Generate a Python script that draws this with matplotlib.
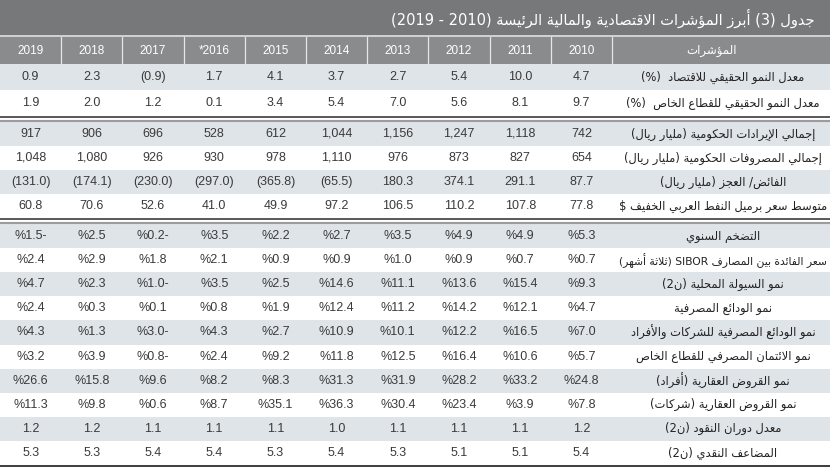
import re
import matplotlib
matplotlib.use("Agg")
import matplotlib.pyplot as plt
from matplotlib.patches import Rectangle

# ---------------- data ----------------
years = ["2010", "2011", "2012", "2013", "2014", "2015", "*2016", "2017", "2018", "2019"]
title_main = "جدول (3) أبرز المؤشرات الاقتصادية والمالية الرئيسة"
title_period = ("2010", "2019")
header_label = "المؤشرات"

growth_labels = ["معدل النمو الحقيقي للاقتصاد  (%)",
                 "معدل النمو الحقيقي للقطاع الخاص  (%)"]
real_gdp_growth = [4.7, 10.0, 5.4, 2.7, 3.7, 4.1, 1.7, -0.9, 2.3, 0.9]
private_sector_growth = [9.7, 8.1, 5.6, 7.0, 5.4, 3.4, 0.1, 1.2, 2.0, 1.9]

fiscal_labels = ["إجمالي الإيرادات الحكومية (مليار ريال)",
                 "إجمالي المصروفات الحكومية (مليار ريال)",
                 "الفائض/ العجز (مليار ريال)",
                 "متوسط سعر برميل النفط العربي الخفيف $"]
revenues = [742, 1118, 1247, 1156, 1044, 612, 528, 696, 906, 917]
expenditures = [654, 827, 873, 976, 1110, 978, 930, 926, 1080, 1048]
surplus_deficit = [87.7, 291.1, 374.1, 180.3, -65.5, -365.8, -297.0, -230.0, -174.1, -131.0]
oil_price = [77.8, 107.8, 110.2, 106.5, 97.2, 49.9, 41.0, 52.6, 70.6, 60.8]

monetary_labels = ["التضخم السنوي",
                   "سعر الفائدة بين المصارف SIBOR (ثلاثة أشهر)",
                   "نمو السيولة المحلية (ن2)",
                   "نمو الودائع المصرفية",
                   "نمو الودائع المصرفية للشركات والأفراد",
                   "نمو الائتمان المصرفي للقطاع الخاص",
                   "نمو القروض العقارية (أفراد)",
                   "نمو القروض العقارية (شركات)",
                   "معدل دوران النقود (ن2)",
                   "المضاعف النقدي (ن2)"]
inflation = [5.3, 4.9, 4.9, 3.5, 2.7, 2.2, 3.5, -0.2, 2.5, -1.5]
sibor = [0.7, 0.7, 0.9, 1.0, 0.9, 0.9, 2.1, 1.8, 2.9, 2.4]
m2_growth = [9.3, 15.4, 13.6, 11.1, 14.6, 2.5, 3.5, -1.0, 2.3, 4.7]
deposit_growth = [4.7, 12.1, 14.2, 11.2, 12.4, 1.9, 0.8, 0.1, 0.3, 2.4]
corp_indiv_deposit_growth = [7.0, 16.5, 12.2, 10.1, 10.9, 2.7, 4.3, -3.0, 1.3, 4.3]
private_credit_growth = [5.7, 10.6, 16.4, 12.5, 11.8, 9.2, 2.4, -0.8, 3.9, 3.2]
mortgage_indiv_growth = [24.8, 33.2, 28.2, 31.9, 31.3, 8.3, 8.2, 9.6, 15.8, 26.6]
mortgage_corp_growth = [7.8, 3.9, 23.4, 30.4, 36.3, 35.1, 8.7, 0.6, 9.8, 11.3]
money_velocity = [1.2, 1.1, 1.1, 1.1, 1.0, 1.1, 1.1, 1.1, 1.2, 1.2]
money_multiplier = [5.4, 5.1, 5.1, 5.3, 5.4, 5.3, 5.4, 5.4, 5.3, 5.3]

groups = [
    (growth_labels, [real_gdp_growth, private_sector_growth], ["paren", "paren"]),
    (fiscal_labels, [revenues, expenditures, surplus_deficit, oil_price],
     ["int", "int", "paren", "plain"]),
    (monetary_labels, [inflation, sibor, m2_growth, deposit_growth, corp_indiv_deposit_growth,
                       private_credit_growth, mortgage_indiv_growth, mortgage_corp_growth,
                       money_velocity, money_multiplier],
     ["pct"] * 8 + ["plain", "plain"]),
]

# ---------------- Arabic shaping (presentation forms + visual order) ----------------
_two = {0x0622, 0x0623, 0x0624, 0x0625, 0x0627, 0x0629, 0x062F, 0x0630, 0x0631, 0x0632, 0x0648, 0x0649}
FORMS = {}
_cp = 0xFE80
for _c in list(range(0x0621, 0x063B)) + list(range(0x0641, 0x064B)):
    _n = 1 if _c == 0x0621 else (2 if _c in _two else 4)
    FORMS[chr(_c)] = (_cp, _n)
    _cp += _n
LAMALEF = {"آ": 0xFEF5, "أ": 0xFEF7, "إ": 0xFEF9, "ا": 0xFEFB}


def _shape(s):
    items = []
    i = 0
    while i < len(s):
        c = s[i]
        if c == "ل" and i + 1 < len(s) and s[i + 1] in LAMALEF:
            items.append(("LA", s[i + 1]))
            i += 2
        else:
            items.append(c)
            i += 1

    def joinable(it):
        return isinstance(it, tuple) or (it in FORMS and FORMS[it][1] >= 2)

    def dual(it):
        return (not isinstance(it, tuple)) and it in FORMS and FORMS[it][1] == 4

    out = []
    for k, it in enumerate(items):
        prev = items[k - 1] if k > 0 else None
        nxt = items[k + 1] if k + 1 < len(items) else None
        jp = prev is not None and dual(prev) and joinable(it)
        if isinstance(it, tuple):
            base = LAMALEF[it[1]]
            out.append(chr(base + (1 if jp else 0)))
            continue
        if it not in FORMS:
            out.append(it)
            continue
        base, n = FORMS[it]
        jn = dual(it) and nxt is not None and joinable(nxt)
        if jp and jn:
            out.append(chr(base + 3))
        elif jp:
            out.append(chr(base + 1))
        elif jn:
            out.append(chr(base + 2))
        else:
            out.append(chr(base))
    return "".join(out)


_ltr = re.compile(r"[A-Za-z0-9](?:[A-Za-z0-9.,\-]*[A-Za-z0-9])?")
_mirror = {"(": ")", ")": "("}


def ar(s):
    shaped = _shape(s)
    tokens = []
    pos = 0
    for m in _ltr.finditer(shaped):
        for ch in shaped[pos:m.start()]:
            tokens.append(_mirror.get(ch, ch))
        tokens.append(m.group(0))
        pos = m.end()
    for ch in shaped[pos:]:
        tokens.append(_mirror.get(ch, ch))
    return "".join(reversed(tokens))


def fmt(v, kind):
    if kind == "int":
        return f"{v:,.0f}"
    if kind == "paren":
        return f"({abs(v):.1f})" if v < 0 else f"{v:.1f}"
    if kind == "pct":
        return f"%{abs(v):.1f}" + ("-" if v < 0 else "")
    return f"{v:.1f}"


# ---------------- layout ----------------
W, H = 830, 470
fig = plt.figure(figsize=(W / 100, H / 100), dpi=100)
ax = fig.add_axes([0, 0, 1, 1])
ax.set_xlim(0, W)
ax.set_ylim(H, 0)
ax.axis("off")
fig.patch.set_facecolor("white")
renderer = fig.canvas.get_renderer()


def fit(t, maxw):
    bb = t.get_window_extent(renderer=renderer)
    if bb.width > maxw:
        t.set_fontsize(t.get_fontsize() * maxw / bb.width)


title_h = 35
header_top, header_bot = 37, 64
label_left = 612
ncol = len(years)
col_w = label_left / ncol
row_heights = [26, 24, 24.1]
gap = 6

TITLE_BG = "#77787a"
HEAD_BG = "#8a8b8d"
LIGHT = "#dfe4e9"
TXT = "#3a3a3a"
AR_FONT = ["DejaVu Sans"]
NUM_FONT = ["Liberation Sans", "DejaVu Sans"]

ax.add_patch(Rectangle((0, 0), W, title_h, color=TITLE_BG, lw=0))
ax.add_patch(Rectangle((0, title_h), W, header_top - title_h, color="#cfd0d2", lw=0))
ax.add_patch(Rectangle((0, header_top), W, header_bot - header_top, color=HEAD_BG, lw=0))
# logical "(2010 - 2019)" in a right-to-left line: the numbers run right to left
title_full = title_main + " (" + title_period[0] + " - " + title_period[1] + ")"
tt = ax.text(815, title_h / 2 + 1, ar(title_full), color="white", fontsize=10.5,
             family=AR_FONT, ha="right", va="center")
fit(tt, 435)

# header cells
for i, yr in enumerate(years):
    x = (ncol - 1 - i + 0.5) * col_w
    ax.text(x, (header_top + header_bot) / 2, yr, color="white", fontsize=8.5,
            family=NUM_FONT, ha="center", va="center")
for j in range(1, ncol + 1):
    ax.plot([j * col_w, j * col_w], [header_top, header_bot], color="#e6e6e6", lw=0.9)
ax.text((label_left + W) / 2 - 10, (header_top + header_bot) / 2, ar(header_label), color="white",
        fontsize=8.5, family=AR_FONT, ha="center", va="center")

y = header_bot
for g, (labels, series, kinds) in enumerate(groups):
    rh = row_heights[g]
    for r, (lab, vals, kind) in enumerate(zip(labels, series, kinds)):
        if r % 2 == 0:
            ax.add_patch(Rectangle((0, y), W, rh, color=LIGHT, lw=0))
        cy = y + rh / 2
        for i, v in enumerate(vals):
            x = (ncol - 1 - i + 0.5) * col_w
            ax.text(x, cy, fmt(v, kind), color=TXT, fontsize=9, family=NUM_FONT,
                    ha="center", va="center")
        t = ax.text((label_left + W) / 2 + 2, cy, ar(lab), color="#222222", fontsize=8.3,
                    family=AR_FONT, ha="center", va="center")
        fit(t, 208)
        y += rh
    if g < len(groups) - 1:
        ax.plot([0, W], [y + 1, y + 1], color="#3c3c3c", lw=1.2, solid_capstyle="butt")
        ax.plot([0, W], [y + 4.5, y + 4.5], color="#9c9c9c", lw=1.5, solid_capstyle="butt")
        y += gap
ax.plot([0, W], [y + 1, y + 1], color="#3c3c3c", lw=1.4, solid_capstyle="butt")

fig.savefig("out.png", dpi=100, facecolor="white")
